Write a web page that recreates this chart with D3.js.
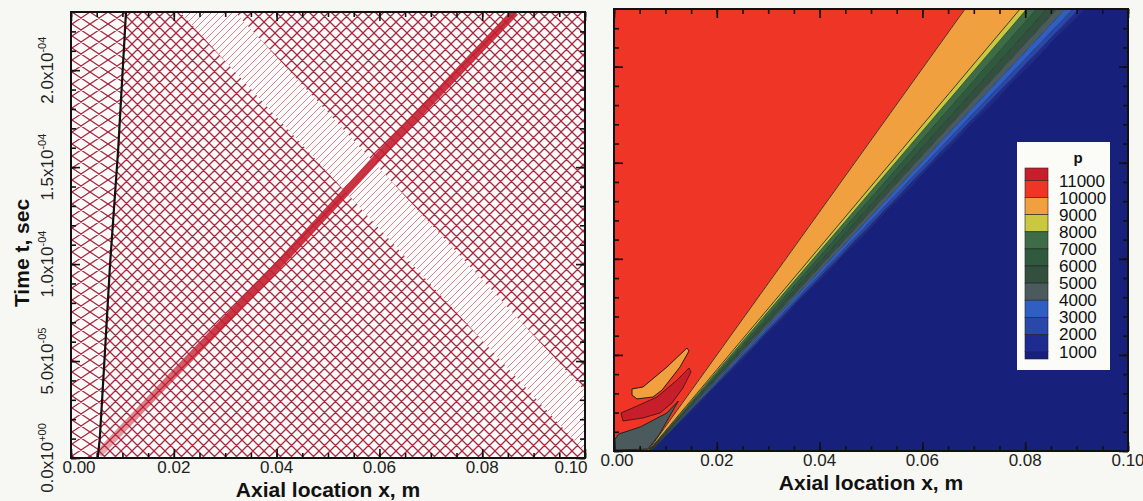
<!DOCTYPE html>
<html>
<head>
<meta charset="utf-8">
<script src="https://cdn.jsdelivr.net/npm/d3@7"></script>
<style>
  body { margin: 0; background: #f7f7f3; }
  svg { display: block; font-family: "Liberation Sans", Arial, sans-serif; }
  .tick line { stroke: #111; stroke-width: 1.6; }
</style>
</head>
<body>
<svg id="chart" width="1143" height="501"></svg>
<script>
// ---- shared axes (x in m, t in s) ----
var tMax = 0.00023;
var xTicks = [0, 0.02, 0.04, 0.06, 0.08, 0.1];
var xTickLabels = ["0.00", "0.02", "0.04", "0.06", "0.08", "0.10"];
var yTicks = [0, 0.00005, 0.0001, 0.00015, 0.0002];
var yTickMantissa = ["0.0", "5.0", "1.0", "1.5", "2.0"];
var yTickExponent = ["+00", "-05", "-04", "-04", "-04"];

// ---- left panel: wave diagram ----
var contactPath = [[0.0052, 0], [0.0056, 0.00001], [0.0065, 0.00005], [0.0076, 0.0001], [0.0092, 0.00016], [0.0107, 0.00023]];
var shockPath = [[0.0054, 0.000002], [0.02, 0.000043], [0.04, 0.0000985], [0.06, 0.000156], [0.0864, 0.00023]];
var bandEdgeA = [[0.0212, 0.00023], [0.1, 0.0000031]];
var bandEdgeB = [[0.0319, 0.00023], [0.1, 0.0000345]];

// ---- right panel: pressure contours ----
var pLevels = [11000, 10000, 9000, 8000, 7000, 6000, 5000, 4000, 3000, 2000, 1000];
var bandColors = ["#c61f2b", "#ee3526", "#f0a03e", "#c9c83e", "#3d6c47", "#2f5a3d", "#33503f", "#4a5a5d", "#2f5fc2", "#2a47aa", "#1e2b90", "#17207a"];
// boundaries of the fan, from 10000 down to 1000
var fanLevels = [10000, 9000, 8000, 7000, 6000, 5000, 4000, 3000, 2000, 1000];
var fanBottomX = [0.0066, 0.0067, 0.0068, 0.0069, 0.0070, 0.0071, 0.0072, 0.0073, 0.0074, 0.0075];
var fanTopX = [0.0683, 0.0790, 0.0803, 0.0822, 0.0842, 0.0862, 0.0878, 0.0893, 0.0905, 0.0915];
var darkRedBlob = [[0.00136, 0.0000198], [0.00447, 0.0000234], [0.00837, 0.0000281], [0.01226, 0.0000369], [0.01459, 0.0000432], [0.01498, 0.0000411], [0.01342, 0.0000328], [0.01128, 0.000025], [0.00895, 0.0000198], [0.00564, 0.0000172], [0.00175, 0.0000156]];
var orangeSliver = [[0.0035, 0.0000323], [0.00564, 0.0000333], [0.01031, 0.0000437], [0.0142, 0.0000536], [0.01459, 0.000052], [0.01284, 0.0000437], [0.00934, 0.0000317], [0.00759, 0.0000281], [0.00447, 0.0000271], [0.0035, 0.0000291]];
var grayWedge = [[0.0002, 0.0000062], [0.0009, 0.0000088], [0.0051, 0.0000125], [0.0103, 0.0000198], [0.0125, 0.000026], [0.0088, 0.0000085], [0.0066, 0.000001], [0.0002, 0.0000005]];

var svg = d3.select("#chart");
var defs = svg.append("defs");

var xL = d3.scaleLinear().domain([0, 0.1]).range([71, 585]);
var yL = d3.scaleLinear().domain([0, tMax]).range([458, 12]);
var xR = d3.scaleLinear().domain([0, 0.1]).range([614, 1128]);
var yR = d3.scaleLinear().domain([0, tMax]).range([451, 9]);

// hatch patterns for the characteristic mesh
function meshPattern(id, w, h, color, sw, both) {
  var p = defs.append("pattern").attr("id", id)
    .attr("patternUnits", "userSpaceOnUse")
    .attr("width", w).attr("height", h);
  var d = `M0,${h}L${w},0M-1,1L1,-1M${w - 1},${h + 1}L${w + 1},${h - 1}`;
  if (both) d += `M0,0L${w},${h}M-1,${h - 1}L1,${h + 1}M${w - 1},-1L${w + 1},1`;
  p.append("path").attr("d", d)
    .attr("stroke", color).attr("stroke-width", sw).attr("fill", "none");
}
meshPattern("meshWide", 18, 12, "#a82840", 1.25, true);
meshPattern("meshDense", 11, 11, "#a82840", 1.3, true);
meshPattern("hatchBand", 7, 7, "#d27888", 0.9, false);

function clip(id, x, y) {
  defs.append("clipPath").attr("id", id).append("rect")
    .attr("x", x.range()[0]).attr("y", y.range()[1])
    .attr("width", x.range()[1] - x.range()[0])
    .attr("height", y.range()[0] - y.range()[1]);
}
clip("clipL", xL, yL);
clip("clipR", xR, yR);

function drawTicks(g, x, y) {
  var xMinor = d3.range(0, 0.1001, 0.005);
  var yMinor = d3.range(0, tMax, 0.00001);
  var specs = [
    [d3.axisBottom, x, xMinor, xTicks, `translate(0,${y.range()[0]})`],
    [d3.axisTop, x, xMinor, xTicks, `translate(0,${y.range()[1]})`],
    [d3.axisLeft, y, yMinor, yTicks, `translate(${x.range()[0]},0)`],
    [d3.axisRight, y, yMinor, yTicks, `translate(${x.range()[1]},0)`]
  ];
  specs.forEach(function(s) {
    [[s[2], -5], [s[3], -9]].forEach(function(t) {
      g.append("g").attr("transform", s[4])
        .call(s[0](s[1]).tickValues(t[0]).tickSize(t[1]).tickFormat(""))
        .call(a => a.selectAll(".domain, text").remove());
    });
  });
  g.append("rect")
    .attr("x", x.range()[0]).attr("y", y.range()[1])
    .attr("width", x.range()[1] - x.range()[0])
    .attr("height", y.range()[0] - y.range()[1])
    .attr("fill", "none").attr("stroke", "#111").attr("stroke-width", 2);
}

function xLabels(g, x, y, shifts) {
  g.selectAll(null).data(xTicks).enter().append("text")
    .attr("x", (d, i) => x(d) + shifts[i])
    .attr("y", y.range()[0] + 15)
    .attr("text-anchor", "middle")
    .attr("font-size", 17).attr("fill", "#222")
    .text((d, i) => xTickLabels[i]);
  g.append("text")
    .attr("x", (x.range()[0] + x.range()[1]) / 2)
    .attr("y", y.range()[0] + 39)
    .attr("text-anchor", "middle")
    .attr("font-size", 21).attr("font-weight", "bold").attr("fill", "#111")
    .text("Axial location x, m");
}

// ================= left panel =================
var gL = svg.append("g");
gL.append("rect").attr("x", 71).attr("y", 12).attr("width", 514).attr("height", 446).attr("fill", "#fdfafa");
var plotL = gL.append("g").attr("clip-path", "url(#clipL)");
var lineL = d3.line().x(d => xL(d[0])).y(d => yL(d[1]));

var leftRegion = [[0, 0]].concat(contactPath, [[0, tMax]]);
plotL.append("path").attr("d", lineL(leftRegion) + "Z").attr("fill", "url(#meshWide)");

var rightRegion = contactPath.concat([[0.1, tMax], [0.1, 0]]);
plotL.append("path").attr("d", lineL(rightRegion) + "Z").attr("fill", "url(#meshDense)");

var band = [bandEdgeA[0], bandEdgeB[0], bandEdgeB[1], bandEdgeA[1]];
plotL.append("path").attr("d", lineL(band) + "Z").attr("fill", "#fdfafa");
plotL.append("path").attr("d", lineL(band) + "Z").attr("fill", "url(#hatchBand)");

var shockGrad = defs.append("linearGradient").attr("id", "shockGrad")
  .attr("gradientUnits", "userSpaceOnUse")
  .attr("x1", 0).attr("y1", yL(0)).attr("x2", 0).attr("y2", yL(0.00007));
shockGrad.append("stop").attr("offset", 0).attr("stop-color", "#c41f30").attr("stop-opacity", 0.35);
shockGrad.append("stop").attr("offset", 1).attr("stop-color", "#c41f30").attr("stop-opacity", 0.9);
plotL.append("path").attr("d", lineL(shockPath))
  .attr("fill", "none").attr("stroke", "url(#shockGrad)").attr("stroke-width", 8);

plotL.append("path").attr("d", lineL(contactPath))
  .attr("fill", "none").attr("stroke", "#111").attr("stroke-width", 2.2);

drawTicks(gL, xL, yL);
xLabels(gL, xL, yL, [8, 0, 0, 0, 0, -14]);

yTicks.forEach(function(v, i) {
  var t = gL.append("text")
    .attr("transform", `translate(53,${yL(v)}) rotate(-90)`)
    .attr("text-anchor", "middle").attr("font-size", 17).attr("fill", "#222");
  t.append("tspan").text(yTickMantissa[i] + "x10");
  t.append("tspan").attr("font-size", 11).attr("dy", -7).text(yTickExponent[i]);
});
gL.append("text")
  .attr("transform", "translate(29,253) rotate(-90)")
  .attr("text-anchor", "middle").attr("font-size", 21).attr("font-weight", "bold").attr("fill", "#111")
  .text("Time t, sec");

// ================= right panel =================
var gR = svg.append("g");
var plotR = gR.append("g").attr("clip-path", "url(#clipR)");
var lineR = d3.line().x(d => xR(d[0])).y(d => yR(d[1]));

var fanRegions = [];
fanRegions.push({ c: bandColors[1], pts: [[0, 0], [fanBottomX[0], 0], [fanTopX[0], tMax], [0, tMax]] });
for (var i = 0; i < fanLevels.length - 1; i++) {
  fanRegions.push({ c: bandColors[i + 2], pts: [[fanBottomX[i], 0], [fanBottomX[i + 1], 0], [fanTopX[i + 1], tMax], [fanTopX[i], tMax]] });
}
var last = fanLevels.length - 1;
fanRegions.push({ c: bandColors[11], pts: [[fanBottomX[last], 0], [0.1, 0], [0.1, tMax], [fanTopX[last], tMax]] });

plotR.selectAll("path.band").data(fanRegions).enter().append("path")
  .attr("class", "band")
  .attr("d", d => lineR(d.pts) + "Z")
  .attr("fill", d => d.c).attr("stroke", d => d.c).attr("stroke-width", 0.6);

// contour lines
plotR.selectAll("path.cline").data(fanLevels).enter().append("path")
  .attr("class", "cline")
  .attr("d", (d, i) => lineR([[fanBottomX[i], 0], [fanTopX[i], tMax]]))
  .attr("fill", "none").attr("stroke", "#1a1a1a")
  .attr("stroke-opacity", (d, i) => i < 2 ? 0.8 : 0.35).attr("stroke-width", 1);

plotR.append("path").attr("d", lineR(darkRedBlob) + "Z")
  .attr("fill", bandColors[0]).attr("stroke", "#3a1010").attr("stroke-width", 0.8);
plotR.append("path").attr("d", lineR(orangeSliver) + "Z")
  .attr("fill", bandColors[2]).attr("stroke", "#2a1a10").attr("stroke-width", 1);
plotR.append("path").attr("d", lineR(grayWedge) + "Z")
  .attr("fill", bandColors[7]).attr("stroke", "#1e2420").attr("stroke-width", 1);

// legend
var lg = gR.append("g");
lg.append("rect").attr("x", 1017).attr("y", 142).attr("width", 93).attr("height", 228).attr("fill", "#fbfbf8");
lg.append("text").attr("x", 1078).attr("y", 163).attr("text-anchor", "middle")
  .attr("font-size", 15).attr("font-weight", "bold").attr("fill", "#111").text("p");
var ly = d3.scaleLinear().domain([0, pLevels.length - 1]).range([180.5, 351.5]);
var swEdges = [168].concat(pLevels.map((d, i) => ly(i)), [359]);
lg.selectAll("rect.sw").data(bandColors).enter().append("rect")
  .attr("class", "sw")
  .attr("x", 1025).attr("width", 23)
  .attr("y", (d, i) => swEdges[i]).attr("height", (d, i) => swEdges[i + 1] - swEdges[i])
  .attr("fill", d => d).attr("stroke", "#222").attr("stroke-width", 0.6);
lg.selectAll("text.lv").data(pLevels).enter().append("text")
  .attr("class", "lv")
  .attr("x", 1059).attr("y", (d, i) => ly(i) + 6)
  .attr("font-size", 17).attr("fill", "#111")
  .text(d => d);

drawTicks(gR, xR, yR);
xLabels(gR, xR, yR, [3, 0, 0, 0, 0, 0]);
</script>
</body>
</html>
